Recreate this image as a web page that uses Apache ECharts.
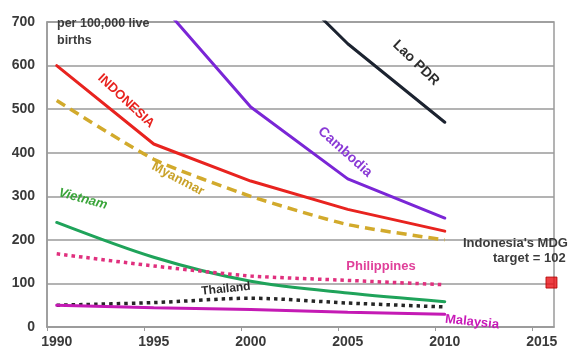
<!DOCTYPE html>
<html>
<head>
<meta charset="utf-8">
<script src="https://cdn.jsdelivr.net/npm/echarts@6/dist/echarts.min.js"></script>
<style>html,body{margin:0;padding:0;background:#fff}#c{width:570px;height:352px}</style>
</head>
<body>
<div id="c"></div>
<script>
const years = [1990, 1995, 2000, 2005, 2010];
const indonesia = [600, 420, 335, 270, 220];
const myanmar = [520, 385, 300, 235, 200];
const cambodia = [null, 760, 505, 340, 250];
const lao = [null, null, 870, 650, 470];
const vietnam = [240, 160, 105, 78, 58];
const philippines = [168, 140, 117, 107, 97];
const thailand = [50, 56, 66, 55, 46];
const malaysia = [50, 44, 40, 34, 29];
const targetYear = [2015.5];
const targetValue = [102];
const xTickLabels = [1990, 1995, 2000, 2005, 2010, 2015];
const yTickLabels = [0, 100, 200, 300, 400, 500, 600, 700];

const FONT = '"Liberation Sans", Arial, sans-serif';
const pairs = vals => years.map((y, i) => [y, vals[i]]);

function lineSeries(name, vals, color, type, width, smooth) {
  return {
    name, type: 'line', data: pairs(vals), symbol: 'none', smooth: smooth || false,
    connectNulls: false, clip: true,
    lineStyle: { color, width, type, cap: type === 'solid' ? 'round' : 'butt' },
    z: 3
  };
}

const chart = echarts.init(document.getElementById('c'), null, { renderer: 'canvas' });

function txt(text, x, y, deg, color, size, italic) {
  return {
    type: 'text', x, y, rotation: deg * Math.PI / 180, z: 10,
    style: { text, fill: color, font: (italic ? 'italic ' : '') + 'bold ' + size + 'px ' + FONT, align: 'center', verticalAlign: 'middle' }
  };
}

chart.setOption({
  animation: false,
  backgroundColor: '#fff',
  grid: { left: 47, right: 16, top: 22, bottom: 25, show: true, borderColor: '#9a9a9a', borderWidth: 1.5, backgroundColor: 'transparent' },
  xAxis: {
    type: 'value', min: 1989.5, max: 2015.63,
    axisLine: { show: true, lineStyle: { color: '#9a9a9a', width: 1.5 } },
    axisTick: { show: true, length: 4, customValues: xTickLabels.map(v => v - 0.5), lineStyle: { color: '#9a9a9a' } },
    axisLabel: { customValues: xTickLabels, margin: 8, color: '#3a3a3a', fontSize: 14, fontWeight: 'bold', fontFamily: FONT,
      formatter: v => String(v) },
    splitLine: { show: false }
  },
  yAxis: {
    type: 'value', min: 0, max: 700, interval: 100,
    axisLine: { show: true, lineStyle: { color: '#9a9a9a', width: 1.5 } },
    axisTick: { show: false },
    axisLabel: { margin: 12, color: '#3a3a3a', fontSize: 14, fontWeight: 'bold', fontFamily: FONT,
      formatter: v => yTickLabels.includes(v) ? String(v) : '' },
    splitLine: { show: true, lineStyle: { color: '#9a9a9a', width: 1.5 } }
  },
  series: [
    lineSeries('Lao PDR', lao, '#1c2330', 'solid', 3),
    lineSeries('Cambodia', cambodia, '#7a26d6', 'solid', 3),
    lineSeries('Indonesia', indonesia, '#e8231f', 'solid', 3),
    lineSeries('Myanmar', myanmar, '#d2aa2c', [10, 6], 3.5, 0.2),
    lineSeries('Vietnam', vietnam, '#1fa35a', 'solid', 3, 0.3),
    lineSeries('Philippines', philippines, '#e0307e', [3.5, 4], 3.5, 0.2),
    lineSeries('Thailand', thailand, '#262626', [3.5, 4], 3.5, 0.3),
    lineSeries('Malaysia', malaysia, '#c41ab4', 'solid', 3),
    {
      name: 'MDG target', type: 'scatter', symbol: 'rect', symbolSize: 11, clip: false,
      data: targetYear.map((y, i) => [y, targetValue[i]]),
      itemStyle: { color: '#e80f14', borderColor: '#b00000', borderWidth: 1 }, z: 5
    }
  ],
  graphic: [
    { type: 'text', x: 57, y: 15, z: 10, style: { text: 'per 100,000 live\nbirths', fill: '#3c3c3c', font: 'bold 12.5px ' + FONT, lineHeight: 17, align: 'left', verticalAlign: 'top' } },
    txt('INDONESIA', 126, 101, -43, '#e8231f', 13),
    txt('Myanmar', 178, 179, -28, '#c9a22a', 13),
    txt('Vietnam', 83, 199, -15, '#3aa53a', 13, true),
    txt('Cambodia', 345, 152, -42, '#8a3ad6', 14),
    txt('Lao PDR', 416, 63, -44, '#2e2e2e', 14),
    txt('Philippines', 381, 266, 0, '#e0409a', 13),
    txt('Thailand', 226, 289, 6, '#2b2b2b', 12),
    txt('Malaysia', 472, 322, -6, '#c81ab8', 13),
    { type: 'text', x: 463, y: 243, z: 10, style: { text: "Indonesia's MDG", fill: '#3c3c3c', font: 'bold 13px ' + FONT, align: 'left', verticalAlign: 'middle' } },
    { type: 'text', x: 493, y: 258, z: 10, style: { text: 'target = 102', fill: '#3c3c3c', font: 'bold 13px ' + FONT, align: 'left', verticalAlign: 'middle' } }
  ]
});
</script>
</body>
</html>
